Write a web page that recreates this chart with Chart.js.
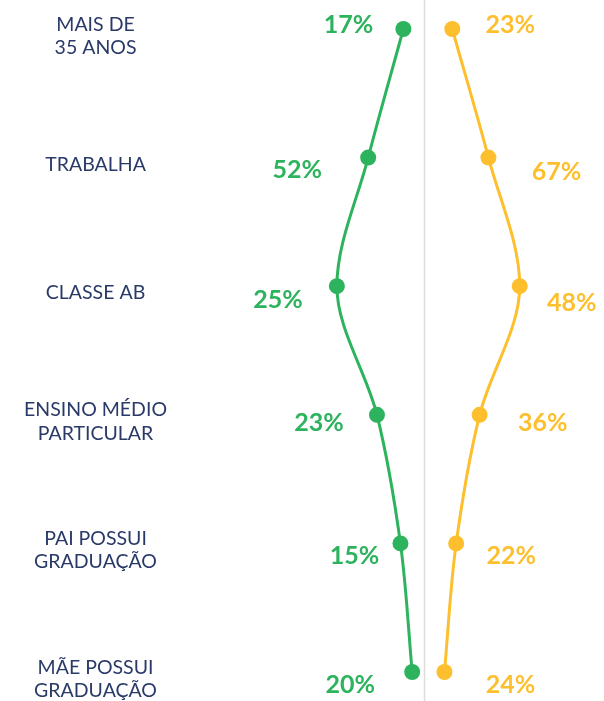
<!DOCTYPE html>
<html>
<head>
<meta charset="utf-8">
<script src="https://cdn.jsdelivr.net/npm/chart.js@4.4.1/dist/chart.umd.min.js"></script>
<style>
  html, body { margin: 0; padding: 0; background: #fff; }
  #wrap { width: 604px; height: 701px; position: relative; }
</style>
</head>
<body>
<div id="wrap"><canvas id="chart"></canvas></div>
<script>
// categories (top to bottom)
const categories = [["MAIS DE", "35 ANOS"], "TRABALHA", "CLASSE AB", ["ENSINO MÉDIO", "PARTICULAR"], ["PAI POSSUI", "GRADUAÇÃO"], ["MÃE POSSUI", "GRADUAÇÃO"]];
// horizontal position of each point, relative to the centre line
const greenPos = [-21, -57, -89, -48, -24, -12];
const yellowPos = [29, 66, 98, 57, 33, 21];
// value labels shown next to the points
const greenLabels = ["17%", "52%", "25%", "23%", "15%", "20%"];
const yellowLabels = ["23%", "67%", "48%", "36%", "22%", "24%"];

const GREEN = '#2db35d';
const YELLOW = '#fdbf2d';
const NAVY = '#2a3a68';

// gray divider through the middle, full height of the canvas
const centerLine = {
    id: 'centerLine',
    beforeDatasetsDraw(chart) {
        const ctx = chart.ctx;
        const x = Math.round(chart.scales.x.getPixelForValue(0)) + 0.5;
        ctx.save();
        ctx.strokeStyle = '#dcdcdc';
        ctx.lineWidth = 1.5;
        ctx.beginPath();
        ctx.moveTo(x, 0);
        ctx.lineTo(x, chart.height);
        ctx.stroke();
        ctx.restore();
    }
};

// percentage text next to every point
const valueLabels = {
    id: 'valueLabels',
    afterDatasetsDraw(chart, args, opts) {
        const ctx = chart.ctx;
        ctx.save();
        ctx.font = 'bold 25px Lato';
        ctx.textAlign = 'center';
        ctx.textBaseline = 'middle';
        chart.data.datasets.forEach((ds, i) => {
            const meta = chart.getDatasetMeta(i);
            const shift = opts.shifts[i];
            ctx.fillStyle = ds.borderColor;
            meta.data.forEach((pt, j) => {
                ctx.fillText(ds.valueText[j], pt.x + shift.dx[j], pt.y + shift.dy[j]);
            });
        });
        ctx.restore();
    }
};

new Chart(document.getElementById('chart'), {
    type: 'line',
    data: {
        labels: categories,
        datasets: [{
            data: greenPos,
            valueText: greenLabels,
            borderColor: GREEN,
            backgroundColor: GREEN,
            borderWidth: 3,
            pointRadius: 8,
            pointHoverRadius: 8,
            pointBorderWidth: 0,
            cubicInterpolationMode: 'monotone',
            clip: false
        }, {
            data: yellowPos,
            valueText: yellowLabels,
            borderColor: YELLOW,
            backgroundColor: YELLOW,
            borderWidth: 3,
            pointRadius: 8,
            pointHoverRadius: 8,
            pointBorderWidth: 0,
            cubicInterpolationMode: 'monotone',
            clip: false
        }]
    },
    options: {
        indexAxis: 'y',
        responsive: true,
        maintainAspectRatio: false,
        animation: false,
        layout: { padding: { top: 29, bottom: 29, left: 0, right: 0 } },
        plugins: {
            legend: { display: false },
            tooltip: { enabled: false },
            valueLabels: {
                shifts: [
                    { dx: [-55, -71, -59, -58, -46, -62], dy: [-4, 12, 14, 8, 13, 13] },
                    { dx: [58, 68, 52, 63, 55, 66], dy: [-4, 14, 17, 8, 13, 13] }
                ]
            }
        },
        scales: {
            y: {
                type: 'category',
                offset: false,
                grid: { display: false, drawTicks: false },
                border: { display: false },
                afterFit(scale) {
                    scale.width = 244;
                    scale.paddingTop = 0;
                    scale.paddingBottom = 0;
                },
                ticks: {
                    crossAlign: 'center',
                    padding: 77,
                    labelOffset: 7,
                    color: NAVY,
                    font: { family: 'Lato', size: 19.5, lineHeight: 1.2 }
                }
            },
            x: {
                type: 'linear',
                min: -184,
                max: 176,
                display: false
            }
        }
    },
    plugins: [centerLine, valueLabels]
});
</script>
</body>
</html>
